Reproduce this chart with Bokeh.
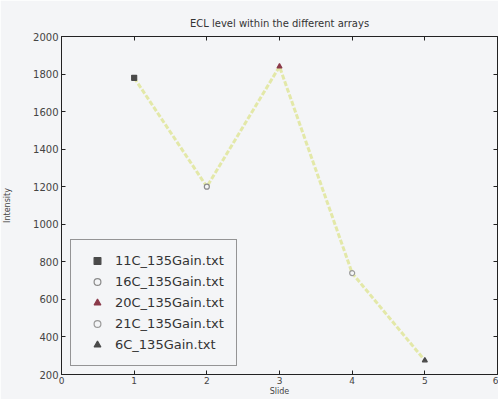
from bokeh.plotting import figure
from bokeh.models import (ColumnDataSource, Legend, LegendItem, LinearAxis,
                          Range1d, FixedTicker)
from bokeh.embed import file_html
from bokeh.resources import INLINE

# ECL intensity measured on each slide, one data file per slide
files = ["11C_135Gain.txt", "16C_135Gain.txt", "20C_135Gain.txt",
         "21C_135Gain.txt", "6C_135Gain.txt"]
slides = [1, 2, 3, 4, 5]
intensity = [1780, 1200, 1840, 740, 275]
markers = ["square", "circle", "triangle", "circle", "triangle"]
colors = ["#4a4a4a", "#8a8a8a", "#8b3a4a", "#9a9a9a", "#4a4a4a"]
fills = [True, False, True, False, True]

x_ticks = [0, 1, 2, 3, 4, 5, 6]
y_ticks = [200, 400, 600, 800, 1000, 1200, 1400, 1600, 1800, 2000]

bg = "#f4f5f7"
font = "DejaVu Sans"

p = figure(width=498, height=399, output_backend="svg", toolbar_location=None,
           x_range=Range1d(0, 6), y_range=Range1d(200, 2000),
           title="ECL level within the different arrays",
           min_border_left=61, min_border_right=1, min_border_top=36,
           min_border_bottom=25, background_fill_color=bg,
           border_fill_color=bg, outline_line_color="#222222")
p.title.align = "center"
p.title.text_font = font
p.title.text_font_size = "10px"
p.title.text_font_style = "normal"
p.title.text_color = "#333333"
p.title.standoff = 15

p.grid.visible = False

for ax in (p.xaxis[0], p.yaxis[0]):
    ax.major_label_text_font = font
    ax.major_label_text_font_size = "9px"
    ax.major_label_text_color = "#444444"
    ax.axis_label_text_font = font
    ax.axis_label_text_font_size = "8px"
    ax.axis_label_text_font_style = "normal"
    ax.axis_label_text_color = "#444444"
    ax.major_tick_in = 4
    ax.major_tick_out = 0
    ax.minor_tick_in = 0
    ax.minor_tick_out = 0
    ax.axis_line_color = "#222222"
    ax.major_tick_line_color = "#222222"

p.xaxis.major_label_standoff = 2
p.xaxis.axis_label_standoff = 0
p.yaxis.major_label_standoff = 3
p.yaxis.axis_label_standoff = 18
p.yaxis.major_label_text_font_size = "10px"

p.xaxis.ticker = FixedTicker(ticks=x_ticks)
p.yaxis.ticker = FixedTicker(ticks=y_ticks)
p.xaxis.axis_label = "Slide"
p.yaxis.axis_label = "Intensity"

# Mirrored tick marks on the top and right edges of the box
top = LinearAxis(ticker=FixedTicker(ticks=x_ticks), major_label_text_font_size="0px",
                 major_tick_in=4, major_tick_out=0, minor_tick_in=0, minor_tick_out=0,
                 axis_line_color=None, major_tick_line_color="#222222",
                 major_label_standoff=0)
right = LinearAxis(ticker=FixedTicker(ticks=y_ticks), major_label_text_font_size="0px",
                   major_tick_in=4, major_tick_out=0, minor_tick_in=0, minor_tick_out=0,
                   axis_line_color=None, major_tick_line_color="#222222",
                   major_label_standoff=0)
p.add_layout(top, "above")
p.add_layout(right, "right")

# Connecting trace across the slides
p.line(slides, intensity, line_color="#e3e8a8", line_width=3, line_dash="5 2")

items = []
for i, name in enumerate(files):
    src = ColumnDataSource(data=dict(x=[slides[i]], y=[intensity[i]]))
    r = p.scatter("x", "y", source=src, marker=markers[i], size=5,
                  line_color=colors[i],
                  fill_color=colors[i] if fills[i] else bg, line_width=1.2)
    items.append(LegendItem(label=name, renderers=[r]))

legend = Legend(items=items, location=(9, 8), orientation="vertical",
                label_text_font=font, label_text_font_size="13px",
                label_text_color="#333333", glyph_width=28, glyph_height=17,
                label_height=17, label_standoff=4, spacing=4, padding=12,
                margin=0, border_line_color="#333333", border_line_width=1.5,
                background_fill_color=bg, background_fill_alpha=1.0)
p.add_layout(legend, "center")

open("out.html", "w").write(file_html(p, INLINE))
